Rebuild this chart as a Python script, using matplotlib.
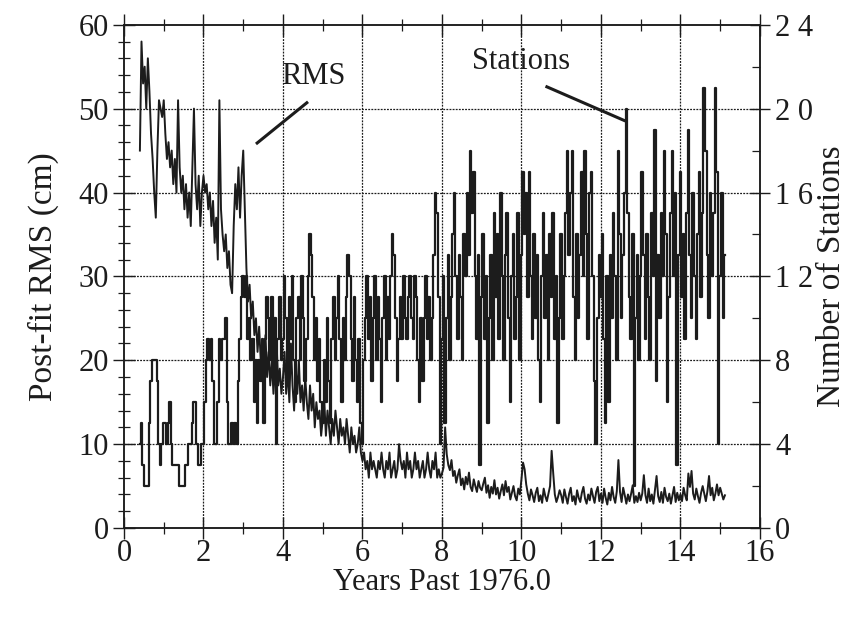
import numpy as np
import matplotlib.pyplot as plt
from matplotlib.ticker import MultipleLocator, FixedLocator

plt.rcParams['font.family'] = ['Liberation Serif', 'DejaVu Serif']

# sampling interval of the read-off values, in years
step = 0.04

# --- Post-fit RMS (cm), segments start at 0.40, 2.00, 4.00, 8.00
rms_a = [45, 58, 53, 55, 50, 56, 52, 47, 44, 40,
         37, 45, 51, 50, 49, 51, 47, 44, 46, 43,
         45, 41, 44, 40, 51, 43, 40, 42, 38, 41,
         37, 40, 36, 43, 50, 41, 38, 42, 36, 40]
rms_b = [42, 40, 41, 38, 40, 36, 39, 34, 37, 32,
         51, 38, 35, 33, 35, 31, 33, 29, 28, 36,
         41, 38, 43, 37, 42, 45, 38, 31, 27, 29,
         25, 27, 23, 25, 21, 24, 20, 22, 19, 23,
         18, 21, 17, 20, 16, 19, 22, 17, 19, 16]
rms_c = [18, 21, 16, 19, 15, 22, 17, 14, 19, 16, 20, 15, 17,
         14, 18, 15, 13, 17, 14, 16, 12, 15, 13, 14, 11,
         13, 15, 11, 14, 12, 10, 13, 11, 14, 12, 10, 13, 11,
         12, 10, 13, 11, 9, 12, 10, 11, 9, 10, 12, 9,
         8, 9, 7, 8, 6, 9, 7, 8, 7, 6, 8, 7, 9,
         7, 6, 8, 7, 9, 6, 7, 8, 6, 7, 10, 8,
         7, 8, 6, 9, 7, 8, 6, 7, 9, 7, 8, 6, 7,
         8, 6, 7, 9, 7, 6, 8, 7, 9, 6, 7, 6]
rms_d = [6.5, 7.2, 12.0, 8.8, 7.5, 6.9, 8.1, 6.2, 6.8, 5.4, 6.3, 7.0, 5.1,
         5.9, 4.6, 6.1, 5.2, 6.6, 4.9, 4.4, 5.8, 5.0, 4.3, 5.6, 4.8,
         4.5, 5.3, 6.0, 4.2, 5.1, 3.6, 4.9, 4.1, 5.7, 4.0, 4.8, 3.5, 4.4,
         5.2, 3.9, 5.6, 4.3, 4.9, 3.4, 4.2, 5.0, 3.8, 3.3, 4.7, 4.0,
         5.8, 7.8, 7.0, 5.2, 4.1, 3.3, 4.6, 3.9, 3.1, 4.2, 4.8, 3.2, 3.9,
         3.0, 4.7, 3.8, 3.2, 4.1, 5.0, 9.2, 6.5, 4.0, 3.1, 3.7, 4.5,
         3.9, 3.0, 4.6, 3.7, 2.9, 4.1, 4.8, 3.2, 3.8, 2.8, 4.5, 3.6, 3.1,
         4.2, 4.9, 3.5, 2.9, 4.0, 3.3, 4.7, 3.8, 3.0, 4.3, 4.9, 3.2,
         4.1, 3.0, 4.7, 3.6, 2.8, 4.2, 3.3, 4.9, 3.7, 3.0, 4.4, 8.1, 4.3,
         3.1, 4.8, 3.9, 2.9, 4.0, 3.2, 4.1, 5.1, 3.0, 3.8, 3.1, 4.2,
         3.3, 4.1, 6.3, 3.9, 3.0, 4.7, 3.2, 4.0, 2.9, 4.6, 6.2, 3.8, 3.1,
         4.3, 3.0, 4.8, 3.7, 3.2, 4.1, 2.9, 3.9, 4.9, 3.1, 4.2, 3.3,
         4.0, 3.2, 4.8, 3.9, 3.3, 6.5, 4.9, 6.8, 4.1, 3.4, 4.7, 3.8, 3.0,
         4.2, 5.0, 4.1, 3.2, 4.4, 6.2, 3.9, 4.8, 3.3, 4.1, 5.2, 3.9,
         4.8, 4.1, 3.4, 3.9]

# --- Number of stations, same sampling
st_a = [4, 5, 3, 2, 2, 2, 5, 7, 8, 8,
        8, 7, 4, 3, 4, 5, 5, 4, 5, 6,
        4, 3, 3, 3, 3, 2, 2, 2, 2, 3,
        3, 4, 4, 5, 6, 6, 4, 3, 3, 4]
st_b = [4, 6, 8, 9, 8, 9, 7, 4, 4, 6,
        9, 8, 9, 9, 10, 6, 4, 4, 5, 4,
        5, 4, 7, 9, 11, 12, 11, 12, 9, 10,
        8, 9, 6, 8, 5, 8, 7, 9, 5, 9,
        11, 10, 8, 11, 7, 10, 4, 9, 11, 8]
st_c = [9, 12, 10, 7, 11, 9, 12, 8, 6, 10, 11, 8, 12,
        10, 7, 9, 12, 14, 13, 11, 8, 10, 7, 9, 6,
        5, 8, 6, 10, 7, 5, 9, 11, 8, 10, 12, 9, 6,
        10, 8, 11, 13, 12, 9, 7, 11, 8, 6, 9, 5,
        4, 8, 10, 12, 9, 11, 7, 10, 12, 8, 11, 9, 6,
        10, 12, 8, 11, 9, 12, 14, 13, 10, 7, 9, 11,
        9, 12, 10, 9, 11, 12, 10, 9, 12, 11, 8, 6, 10,
        7, 10, 12, 9, 11, 8, 10, 13, 16, 15, 11, 4]
st_d = [9, 12, 5, 10, 13, 8, 11, 14, 16, 12, 9, 13, 11,
        8, 14, 12, 16, 13, 18, 15, 17, 12, 9, 13, 3,
        11, 14, 9, 12, 5, 10, 13, 8, 15, 11, 14, 9, 16,
        12, 8, 13, 15, 10, 6, 12, 14, 9, 11, 15, 8,
        13, 17, 14, 16, 11, 17, 12, 9, 14, 10, 13, 8, 6,
        12, 15, 10, 13, 8, 14, 11, 15, 9, 12, 5, 10,
        14, 9, 12, 15, 18, 13, 16, 18, 11, 8, 14, 10, 13,
        17, 12, 18, 14, 9, 16, 17, 12, 7, 4, 10, 13,
        11, 14, 9, 5, 12, 6, 13, 10, 15, 12, 8, 18, 14,
        10, 13, 16, 20, 15, 11, 9, 14, 2, 10, 13, 8,
        12, 17, 13, 9, 14, 11, 8, 15, 12, 19, 7, 13, 10,
        15, 12, 18, 14, 6, 11, 15, 18, 12, 16, 3, 13,
        17, 11, 14, 9, 15, 19, 13, 10, 16, 12, 9, 14, 17,
        11, 15, 21, 18, 13, 10, 16, 12, 15, 21, 17, 4,
        12, 16, 10, 13]

seg_start = [0.40, 2.00, 4.00, 8.00]
rms = np.concatenate([rms_a, rms_b, rms_c, rms_d])
stations = np.concatenate([st_a, st_b, st_c, st_d])
years = np.concatenate([s + step * np.arange(len(v))
                        for s, v in zip(seg_start, [st_a, st_b, st_c, st_d])])

right_labels = ['0', '4', '8', '1 2', '1 6', '2 0', '2 4']
ink = '#1c1c1c'

fig = plt.figure(figsize=(8.57, 6.19), dpi=100)
ax = fig.add_axes([0.1447, 0.147, 0.742, 0.813])
ax2 = ax.twinx()

ax.plot(years, rms, color=ink, lw=1.4, zorder=3)
ax2.step(years, stations, where='mid', color=ink, lw=1.6, zorder=3)

ax.set_xlim(0, 16)
ax.set_ylim(0, 60)
ax2.set_ylim(0, 24)

# dotted grid
for gx in range(2, 16, 2):
    ax.axvline(gx, color=ink, lw=0.9, ls=(0, (1.5, 1)), zorder=1)
for gy in range(10, 60, 10):
    ax.axhline(gy, color=ink, lw=0.9, ls=(0, (1.5, 1)), zorder=1)

ax.xaxis.set_major_locator(MultipleLocator(2))
ax.xaxis.set_minor_locator(MultipleLocator(1))
ax.yaxis.set_major_locator(MultipleLocator(10))
ax.yaxis.set_minor_locator(MultipleLocator(2))
ax.tick_params(which='major', direction='inout', length=16, width=1.0,
               labelsize=22, top=True, pad=3, colors=ink)
ax.tick_params(axis='x', which='major', pad=0)
ax.tick_params(which='minor', direction='inout', length=9, width=0.9,
               top=True, colors=ink)
ax.tick_params(axis='y', which='both', right=False)

ax2.yaxis.set_major_locator(FixedLocator([0, 4, 8, 12, 16, 20, 24]))
ax2.set_yticklabels(right_labels)
ax2.yaxis.set_minor_locator(MultipleLocator(2))
ax2.tick_params(which='major', direction='inout', length=14, width=1.0,
                labelsize=22, pad=4, colors=ink)
ax2.tick_params(which='minor', direction='in', length=6, width=0.9, colors=ink)

for a in (ax, ax2):
    for sp in a.spines.values():
        sp.set_linewidth(1.1)
        sp.set_color(ink)

ax.set_xlabel('Years Past 1976.0', fontsize=22, labelpad=0, color=ink)
ax.set_ylabel('Post-fit RMS (cm)', fontsize=24, labelpad=14, color=ink)
ax2.set_ylabel('Number of Stations', fontsize=24, labelpad=2, color=ink)

# labels with pointer lines
ax.text(4.75, 53.8, 'RMS', fontsize=22, ha='center', va='center', color=ink)
ax.plot([4.6, 3.35], [50.7, 45.9], color=ink, lw=2.2)
ax.text(10.0, 55.6, 'Stations', fontsize=22, ha='center', va='center', color=ink)
ax.plot([10.64, 12.58], [52.6, 48.6], color=ink, lw=2.2)

fig.savefig('out.png', dpi=100)
